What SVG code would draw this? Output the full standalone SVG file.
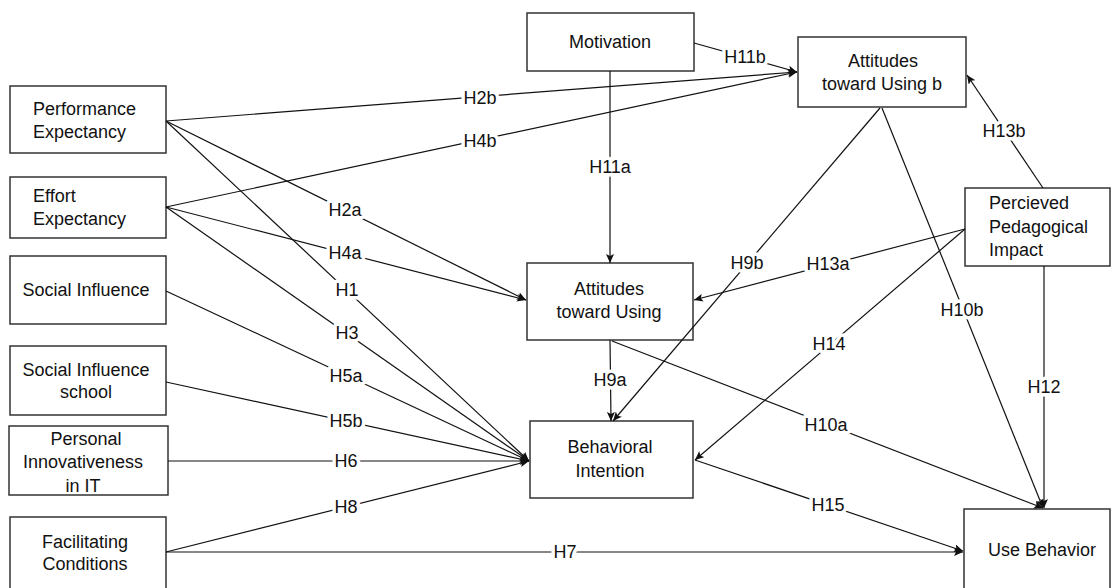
<svg xmlns="http://www.w3.org/2000/svg" width="1113" height="588" viewBox="0 0 1113 588">
<defs>
<marker id="arr" markerUnits="userSpaceOnUse" markerWidth="10" markerHeight="8" refX="9" refY="4" orient="auto">
<path d="M0,0 L9,4 L0,8 L2,4 z" fill="#111"/>
</marker>
<style>
.box{fill:#fff;stroke:#333;stroke-width:1.5}
.t{font-family:"Liberation Sans",Arial,sans-serif;font-size:18px;fill:#111}
.c{text-anchor:middle}
.ln{stroke:#111;stroke-width:1.2;fill:none}
.a{marker-end:url(#arr)}
.lb{font-family:"Liberation Sans",Arial,sans-serif;font-size:18px;fill:#111;text-anchor:middle;paint-order:stroke;stroke:#fff;stroke-width:7;stroke-linejoin:round}
</style>
</defs>
<rect width="1113" height="588" fill="#fff"/>
<g id="performance-expectancy">
<rect class="box" x="10" y="86" width="156" height="67"/>
<text class="t" x="33" y="115">Performance</text>
<text class="t" x="33" y="138">Expectancy</text>
</g>
<g id="effort-expectancy">
<rect class="box" x="10" y="177" width="156" height="61"/>
<text class="t" x="33" y="202">Effort</text>
<text class="t" x="33" y="225">Expectancy</text>
</g>
<g id="social-influence">
<rect class="box" x="10" y="256" width="156" height="68"/>
<text class="t c" x="86" y="296">Social Influence</text>
</g>
<g id="social-influence-school">
<rect class="box" x="10" y="346" width="156" height="69"/>
<text class="t c" x="86" y="376">Social Influence</text>
<text class="t c" x="86" y="398">school</text>
</g>
<g id="personal-innovativeness">
<rect class="box" x="9" y="426" width="159" height="69"/>
<text class="t c" x="86" y="445">Personal</text>
<text class="t c" x="83" y="468">Innovativeness</text>
<text class="t c" x="83" y="492">in IT</text>
</g>
<g id="facilitating-conditions">
<rect class="box" x="10" y="517" width="156" height="75"/>
<text class="t c" x="85" y="548">Facilitating</text>
<text class="t c" x="85" y="570">Conditions</text>
</g>
<g id="motivation">
<rect class="box" x="527" y="13" width="167" height="58"/>
<text class="t c" x="610" y="48">Motivation</text>
</g>
<g id="attitudes-toward-using-b">
<rect class="box" x="798" y="37" width="168" height="70"/>
<text class="t c" x="883" y="67">Attitudes</text>
<text class="t c" x="882" y="90">toward Using b</text>
</g>
<g id="attitudes-toward-using">
<rect class="box" x="527" y="263" width="166" height="77"/>
<text class="t c" x="609" y="295">Attitudes</text>
<text class="t c" x="609" y="318">toward Using</text>
</g>
<g id="behavioral-intention">
<rect class="box" x="530" y="421" width="163" height="77"/>
<text class="t c" x="610" y="453">Behavioral</text>
<text class="t c" x="610" y="477">Intention</text>
</g>
<g id="percieved-pedagogical-impact">
<rect class="box" x="965" y="188" width="145" height="78"/>
<text class="t" x="989" y="209">Percieved</text>
<text class="t" x="989" y="233">Pedagogical</text>
<text class="t" x="989" y="256">Impact</text>
</g>
<g id="use-behavior">
<rect class="box" x="964" y="509" width="146" height="85"/>
<text class="t c" x="1042" y="556">Use Behavior</text>
</g>
<g id="connectors">
<line class="ln a" x1="166" y1="121" x2="797" y2="72"/>
<line class="ln a" x1="166" y1="207" x2="797" y2="72"/>
<line class="ln a" x1="694" y1="43" x2="797" y2="72"/>
<line class="ln a" x1="166" y1="121" x2="526" y2="300"/>
<line class="ln a" x1="166" y1="207" x2="526" y2="300"/>
<line class="ln a" x1="166" y1="121" x2="529" y2="461"/>
<line class="ln a" x1="166" y1="207" x2="529" y2="461"/>
<line class="ln a" x1="166" y1="291" x2="529" y2="461"/>
<line class="ln a" x1="166" y1="382" x2="529" y2="461"/>
<line class="ln a" x1="168" y1="461" x2="529" y2="461"/>
<line class="ln a" x1="166" y1="552" x2="529" y2="461"/>
<line class="ln a" x1="166" y1="552" x2="963" y2="552"/>
<line class="ln a" x1="610" y1="71" x2="610" y2="263"/>
<line class="ln a" x1="610" y1="340" x2="611" y2="421"/>
<line class="ln a" x1="880" y1="108" x2="613" y2="421"/>
<line class="ln a" x1="882" y1="108" x2="1043" y2="508"/>
<line class="ln a" x1="612" y1="341" x2="1043" y2="508"/>
<line class="ln a" x1="965" y1="229" x2="694" y2="300"/>
<line class="ln a" x1="965" y1="229" x2="695" y2="460"/>
<line class="ln a" x1="1043" y1="188" x2="967" y2="75"/>
<line class="ln a" x1="1044" y1="266" x2="1044" y2="508"/>
<line class="ln a" x1="695" y1="460" x2="963" y2="551"/>
</g>
<g id="labels">
<text class="lb" x="480" y="104">H2b</text>
<text class="lb" x="480" y="147">H4b</text>
<text class="lb" x="745" y="63">H11b</text>
<text class="lb" x="345" y="216">H2a</text>
<text class="lb" x="345" y="259">H4a</text>
<text class="lb" x="347" y="296">H1</text>
<text class="lb" x="347" y="339">H3</text>
<text class="lb" x="346" y="382">H5a</text>
<text class="lb" x="346" y="427">H5b</text>
<text class="lb" x="346" y="467">H6</text>
<text class="lb" x="346" y="513">H8</text>
<text class="lb" x="565" y="558">H7</text>
<text class="lb" x="610" y="173">H11a</text>
<text class="lb" x="610" y="386">H9a</text>
<text class="lb" x="747" y="269">H9b</text>
<text class="lb" x="962" y="316">H10b</text>
<text class="lb" x="826" y="431">H10a</text>
<text class="lb" x="828" y="270">H13a</text>
<text class="lb" x="829" y="350">H14</text>
<text class="lb" x="1004" y="137">H13b</text>
<text class="lb" x="1044" y="393">H12</text>
<text class="lb" x="828" y="511">H15</text>
</g>
</svg>
